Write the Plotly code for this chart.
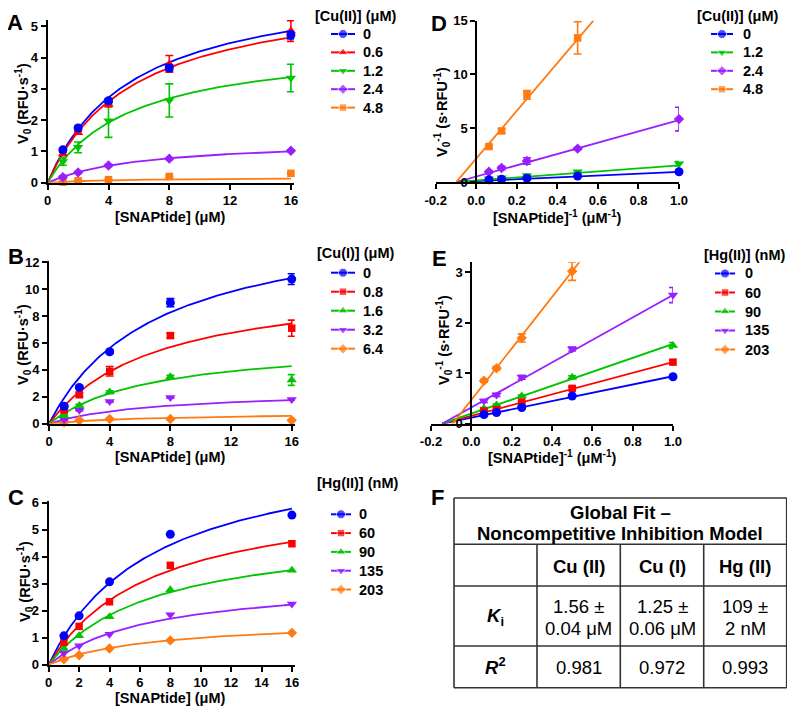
import numpy as np
import plotly.graph_objects as go

W, H = 795, 713          # browser window
OFF = 8                  # default page (body) margin around the plot div
FW, FH = W - OFF, H - OFF  # figure size so that it fills the window exactly
FONT = "Arial, Liberation Sans, Helvetica, sans-serif"

BLUE, RED, GREEN, PURPLE, ORANGE = "#0000FF", "#FF0000", "#00C400", "#9A1FFF", "#FF7A10"

# ---------------- data ----------------
snap = [1, 2, 4, 8, 16]                      # [SNAPtide] (uM)
snap_inv = [0.0625, 0.125, 0.25, 0.5, 1.0]   # [SNAPtide]^-1 (uM^-1)

# Panel A : Cu(II)
a_labels = ["0", "0.6", "1.2", "2.4", "4.8"]
a_colors = [BLUE, RED, GREEN, PURPLE, ORANGE]
a_symbols = ["circle", "triangle-up", "triangle-down", "diamond", "square"]
a_mean = [[1.05, 1.75, 2.62, 3.67, 4.72],
          [0.92, 1.60, 2.50, 3.80, 4.85],
          [0.68, 1.13, 1.98, 2.63, 3.35],
          [0.18, 0.33, 0.55, 0.77, 1.02],
          [0.02, 0.06, 0.10, 0.20, 0.30]]
a_err = [[0.05, 0.05, 0.06, 0.10, 0.12],
         [0.05, 0.05, 0.08, 0.27, 0.33],
         [0.12, 0.17, 0.53, 0.53, 0.44],
         [0.03, 0.03, 0.03, 0.03, 0.03],
         [0.02, 0.02, 0.02, 0.02, 0.02]]
a_vmax = [6.55, 6.30, 4.52, 1.39, 0.18]
a_km = [5.6, 5.7, 5.4, 6.2, 5.6]

# Panel B : Cu(I)
b_labels = ["0", "0.8", "1.6", "3.2", "6.4"]
b_colors = [BLUE, RED, GREEN, PURPLE, ORANGE]
b_symbols = ["circle", "square", "triangle-up", "triangle-down", "diamond"]
b_mean = [[1.30, 2.70, 5.35, 9.00, 10.75],
          [1.00, 2.15, 3.90, 6.55, 7.10],
          [0.60, 1.35, 2.35, 3.50, 3.25],
          [0.30, 1.00, 1.65, 1.95, 1.80],
          [0.10, 0.25, 0.35, 0.35, 0.25]]
b_err = [[0.10, 0.10, 0.12, 0.30, 0.40],
         [0.10, 0.15, 0.35, 0.20, 0.60],
         [0.05, 0.10, 0.10, 0.10, 0.40],
         [0.05, 0.05, 0.05, 0.05, 0.05],
         [0.05, 0.05, 0.05, 0.05, 0.05]]
b_vmax = [15.6, 10.74, 6.09, 2.52, 0.83]
b_km = [7.07, 7.07, 6.76, 7.0, 7.0]

# Panel C : Hg(II)
c_labels = ["0", "60", "90", "135", "203"]
c_colors = [BLUE, RED, GREEN, PURPLE, ORANGE]
c_symbols = ["circle", "square", "triangle-up", "triangle-down", "diamond"]
c_mean = [[1.07, 1.81, 3.07, 4.83, 5.54],
          [0.83, 1.42, 2.33, 3.68, 4.48],
          [0.60, 1.07, 1.78, 2.78, 3.50],
          [0.43, 0.70, 1.13, 1.85, 2.25],
          [0.20, 0.35, 0.60, 0.90, 1.18]]
c_vmax = [8.27, 6.51, 5.01, 3.18, 1.69]
c_km = [6.9, 6.9, 6.9, 6.9, 6.9]

# Panel D : Cu(II) double reciprocal
d_labels = ["0", "1.2", "2.4", "4.8"]
d_colors = [BLUE, GREEN, PURPLE, ORANGE]
d_symbols = ["circle", "triangle-down", "diamond", "square"]
d_mean = [[0.20, 0.25, 0.35, 0.55, 0.95],
          [0.30, 0.40, 0.60, 0.95, 1.70],
          [0.95, 1.30, 1.95, 3.10, 5.85],
          [3.30, 4.75, 8.10, 13.40]]
d_err = [[0.03, 0.03, 0.03, 0.05, 0.08],
         [0.03, 0.05, 0.05, 0.10, 0.20],
         [0.10, 0.15, 0.30, 0.10, 1.10],
         [0.15, 0.20, 0.40, 1.50]]
d_slope = [0.865, 1.41, 5.24, 22.2]
d_icpt = [0.085, 0.14, 0.51, 2.18]
d_xstart = [-0.098, -0.098, -0.098, -0.098]

# Panel E : Hg(II) double reciprocal
e_labels = ["0", "60", "90", "135", "203"]
e_colors = [BLUE, RED, GREEN, PURPLE, ORANGE]
e_symbols = ["circle", "square", "triangle-up", "triangle-down", "diamond"]
e_mean = [[0.18, 0.22, 0.32, 0.55, 0.93],
          [0.25, 0.28, 0.43, 0.70, 1.22],
          [0.30, 0.37, 0.55, 0.92, 1.55],
          [0.45, 0.57, 0.92, 1.48, 2.55],
          [0.85, 1.10, 1.70, 3.02]]
e_err = [[0.02, 0.02, 0.02, 0.02, 0.03],
         [0.02, 0.02, 0.02, 0.03, 0.04],
         [0.02, 0.02, 0.02, 0.03, 0.06],
         [0.03, 0.03, 0.04, 0.04, 0.15],
         [0.03, 0.03, 0.08, 0.18]]
e_slope = [0.82, 1.066, 1.38, 2.227, 5.1]
e_icpt = [0.12, 0.155, 0.20, 0.323, 0.47]
e_xstart = [-0.145, -0.145, -0.145, -0.145, -0.092]

# Panel F : table
f_title = ["Global Fit –", "Noncompetitive Inhibition Model"]
f_cols = ["Cu (II)", "Cu (I)", "Hg (II)"]
f_ki = [["1.56 ±", "0.04 μM"], ["1.25 ±", "0.06 μM"], ["109 ±", "2 nM"]]
f_r2 = ["0.981", "0.972", "0.993"]

# legend titles
leg_titles = ["[Cu(II)] (μM)", "[Cu(I)] (μM)", "[Hg(II)] (nM)", "[Cu(II)] (μM)", "[Hg(II)] (nM)"]

# ---------------- layout helpers (page pixels -> paper fractions) ----------------
def fx(px):
    return (px - OFF) / FW

def fy(py):
    return 1 - (py - OFF) / FH

def xd(p0, p1):
    return [fx(p0), fx(p1)]

def yd(ptop, pbot):
    return [fy(pbot), fy(ptop)]

fig = go.Figure()

TICKFONT = dict(family=FONT, size=13, color="black", weight="bold")
axis_common = dict(showline=True, linewidth=2, linecolor="black", ticks="outside",
                   ticklen=5, tickwidth=2, tickcolor="black", showgrid=False,
                   zeroline=False, tickfont=TICKFONT, automargin=False)

MSIZE = {"circle": 9, "triangle-up": 9, "triangle-down": 9, "diamond": 8, "square": 7.5}
EBAR = dict(thickness=1.6, width=4)

def mm_panel(idx, means, errs, vmax, km, colors, symbols):
    xa = "x" if idx == 1 else f"x{idx}"
    ya = "y" if idx == 1 else f"y{idx}"
    xs = np.linspace(0, 16, 200)
    for i in range(len(means)):
        fig.add_trace(go.Scatter(x=xs, y=vmax[i] * xs / (km[i] + xs), mode="lines",
                                 line=dict(color=colors[i], width=1.8), xaxis=xa, yaxis=ya,
                                 showlegend=False, hoverinfo="skip"))
    for i in reversed(range(len(means))):
        ey = dict(type="data", array=errs[i], color=colors[i], **EBAR) if errs else None
        fig.add_trace(go.Scatter(x=snap, y=means[i], mode="markers",
                                 marker=dict(symbol=symbols[i], size=MSIZE[symbols[i]], color=colors[i]),
                                 error_y=ey, xaxis=xa, yaxis=ya, cliponaxis=False,
                                 showlegend=False))

def lb_panel(idx, means, errs, slope, icpt, xstart, colors, symbols):
    xa = f"x{idx}"
    ya = f"y{idx}"
    for i in range(len(means)):
        x0, x1 = xstart[i], 1.0
        fig.add_trace(go.Scatter(x=[x0, x1], y=[slope[i] * x0 + icpt[i], slope[i] * x1 + icpt[i]],
                                 mode="lines", line=dict(color=colors[i], width=1.8),
                                 xaxis=xa, yaxis=ya, showlegend=False, hoverinfo="skip"))
    for i in reversed(range(len(means))):
        n = len(means[i])
        fig.add_trace(go.Scatter(x=snap_inv[:n], y=means[i], mode="markers",
                                 marker=dict(symbol=symbols[i], size=MSIZE[symbols[i]], color=colors[i]),
                                 error_y=dict(type="data", array=errs[i], color=colors[i], **EBAR),
                                 xaxis=xa, yaxis=ya, cliponaxis=False, showlegend=False))

mm_panel(1, a_mean, a_err, a_vmax, a_km, a_colors, a_symbols)
mm_panel(2, b_mean, b_err, b_vmax, b_km, b_colors, b_symbols)
mm_panel(3, c_mean, None, c_vmax, c_km, c_colors, c_symbols)
lb_panel(4, d_mean, d_err, d_slope, d_icpt, d_xstart, d_colors, d_symbols)
lb_panel(5, e_mean, e_err, e_slope, e_icpt, e_xstart, e_colors, e_symbols)

lb_ticks = [-0.2, 0.0, 0.2, 0.4, 0.6, 0.8, 1.0]
lb_ticktext = ["-0.2", "0.0", "0.2", "0.4", "0.6", "0.8", "1.0"]

# pixel geometry of the panels (page pixels)
A_x = (47.7, 47.7 + 16.2 * 15.2); A_y = (182.7 - 5.2 * 31.27, 182.7)
B_x = (49.0, 49.0 + 16.2 * 15.17); B_y = (423.7 - 12.1 * 13.45, 423.7)
C_x = (48.7, 48.7 + 16.2 * 15.2); C_y = (664.7 - 6.05 * 27.0, 664.7)
D_x = (435.7, 679.0); D_y = (20.7, 182.0)
E_x = (431.0, 673.0); E_y = (423.7 - 3.2 * 50.47, 423.7)

layout = dict(
    width=FW, height=FH, margin=dict(l=0, r=0, t=0, b=0, autoexpand=False),
    paper_bgcolor="white", plot_bgcolor="rgba(0,0,0,0)", showlegend=False,
    font=dict(family=FONT, color="black"),
    xaxis=dict(domain=xd(*A_x), range=[0, 16.2], tickvals=[0, 4, 8, 12, 16], anchor="y", **axis_common),
    yaxis=dict(domain=yd(*A_y), range=[0, 5.2], tickvals=[0, 1, 2, 3, 4, 5], anchor="x", **axis_common),
    xaxis2=dict(domain=xd(*B_x), range=[0, 16.2], tickvals=[0, 4, 8, 12, 16], anchor="y2", **axis_common),
    yaxis2=dict(domain=yd(*B_y), range=[0, 12.1], tickvals=[0, 2, 4, 6, 8, 10, 12], anchor="x2", **axis_common),
    xaxis3=dict(domain=xd(*C_x), range=[0, 16.2], tickvals=list(range(0, 17, 2)), anchor="y3", **axis_common),
    yaxis3=dict(domain=yd(*C_y), range=[0, 6.05], tickvals=[0, 1, 2, 3, 4, 5, 6], anchor="x3", **axis_common),
    xaxis4=dict(domain=xd(*D_x), range=[-0.2, 1.0], tickvals=lb_ticks, ticktext=lb_ticktext, anchor="y4", **axis_common),
    yaxis4=dict(domain=yd(*D_y), range=[0, 15], tickvals=[0, 5, 10, 15], anchor="free",
                position=fx(D_x[0] + (D_x[1] - D_x[0]) / 6), **axis_common),
    xaxis5=dict(domain=xd(*E_x), range=[-0.2, 1.0], tickvals=lb_ticks, ticktext=lb_ticktext, anchor="y5", **axis_common),
    yaxis5=dict(domain=yd(*E_y), range=[0, 3.2], tickvals=[0, 1, 2, 3], anchor="free",
                position=fx(E_x[0] + (E_x[1] - E_x[0]) / 6), **axis_common),
    # full-figure overlay axis (page pixel units) used to draw the legend keys
    xaxis6=dict(domain=[0, 1], range=[OFF, W], visible=False, fixedrange=True, anchor="y6"),
    yaxis6=dict(domain=[0, 1], range=[H, OFF], visible=False, fixedrange=True, anchor="x6"),
)
fig.update_layout(**layout)

ann = []
def txt(px, py, text, size=14.5, bold=True, angle=0, xanchor="center"):
    ann.append(dict(x=fx(px), y=fy(py), xref="paper", yref="paper", text=text, showarrow=False,
                    xanchor=xanchor, yanchor="middle", textangle=angle,
                    font=dict(family=FONT, size=size, color="black", weight="bold" if bold else "normal")))

# ---------------- legends (keys drawn manually) ----------------
# (title x, title y, key centre x, first entry y, entry spacing, half key length, text x)
legend_geom = [
    (313, 16.5, 343, 34.0, 18.4, 12, 361),
    (315, 253, 343, 272.7, 19.0, 12, 361),
    (315, 483, 341, 514.3, 18.8, 10, 357),
    (695, 16.5, 722, 34.0, 18.4, 11, 741),
    (702, 255, 725, 273.5, 19.0, 10, 743),
]
leg_series = [(a_labels, a_colors, a_symbols), (b_labels, b_colors, b_symbols),
              (c_labels, c_colors, c_symbols), (d_labels, d_colors, d_symbols),
              (e_labels, e_colors, e_symbols)]
for (tx, ty_, mx, y0, dy, hl, txx), (labs, cols, syms), title in zip(legend_geom, leg_series, leg_titles):
    txt(tx, ty_, title, size=14.5, xanchor="left")
    ys = [y0 + k * dy for k in range(len(labs))]
    for k in range(len(labs)):
        fig.add_trace(go.Scatter(x=[mx - hl, mx + hl], y=[ys[k], ys[k]], mode="lines",
                                 line=dict(color=cols[k], width=2), xaxis="x6", yaxis="y6",
                                 hoverinfo="skip", showlegend=False))
        txt(txx, ys[k], labs[k], size=14.5, xanchor="left")
    fig.add_trace(go.Scatter(x=[mx] * len(labs), y=ys, mode="markers",
                             marker=dict(symbol=syms, size=[MSIZE[s] for s in syms], color=cols),
                             xaxis="x6", yaxis="y6", hoverinfo="skip", showlegend=False))

# panel letters
for lt, px, py in [("A", 15, 22), ("B", 16, 256), ("C", 16, 497), ("D", 439, 23), ("E", 439, 258), ("F", 437, 497)]:
    txt(px, py, lt, size=22)

# axis titles
mm_x = "[SNAPtide] (μM)"
mm_y = "V<sub>0</sub> (RFU·s<sup>-1</sup>)"
lb_x = "[SNAPtide]<sup>-1</sup> (μM<sup>-1</sup>)"
lb_y = "V<sub>0</sub><sup>-1</sup> (s·RFU<sup>-1</sup>)"
txt(170, 217, mm_x); txt(23, 104, mm_y, angle=-90)
txt(170, 457, mm_x); txt(23, 345, mm_y, angle=-90)
txt(170, 698, mm_x); txt(25, 582, mm_y, angle=-90)
txt(557, 217, lb_x); txt(442, 112, lb_y, angle=-90)
txt(552, 457, lb_x); txt(444, 340, lb_y, angle=-90)

# table F
tx0, tx1 = 454, 786.7
ty = [498, 544.3, 586, 646, 687.7]
cx = [454, 537, 620.3, 703.7, 786.7]
shapes = []
LC = "#333333"
def pline(x0, y0, x1, y1):
    shapes.append(dict(type="line", xref="paper", yref="paper", x0=fx(x0), x1=fx(x1),
                       y0=fy(y0), y1=fy(y1), line=dict(color=LC, width=1.6)))
pline(tx0, ty[0], tx1, ty[0]); pline(tx0, ty[-1], tx1, ty[-1])
pline(tx0, ty[0], tx0, ty[-1]); pline(tx1, ty[0], tx1, ty[-1])
for yy in ty[1:-1]:
    pline(tx0, yy, tx1, yy)
for xx in cx[1:-1]:
    pline(xx, ty[1], xx, ty[-1])

txt(620, 512, f_title[0], size=18.5)
txt(620, 533, f_title[1], size=18.5)
for j in range(3):
    cxm = (cx[j + 1] + cx[j + 2]) / 2
    txt(cxm, 566, f_cols[j], size=18.5)
    txt(cxm, 606, f_ki[j][0], size=18.5, bold=False)
    txt(cxm, 628, f_ki[j][1], size=18.5, bold=False)
    txt(cxm, 667, f_r2[j], size=18.5, bold=False)
txt((cx[0] + cx[1]) / 2, 617, "<i>K</i><sub>i</sub>", size=18.5)
txt((cx[0] + cx[1]) / 2, 666, "<i>R</i><sup>2</sup>", size=18.5)

fig.update_layout(annotations=ann, shapes=shapes)
fig.write_html("out.html")
